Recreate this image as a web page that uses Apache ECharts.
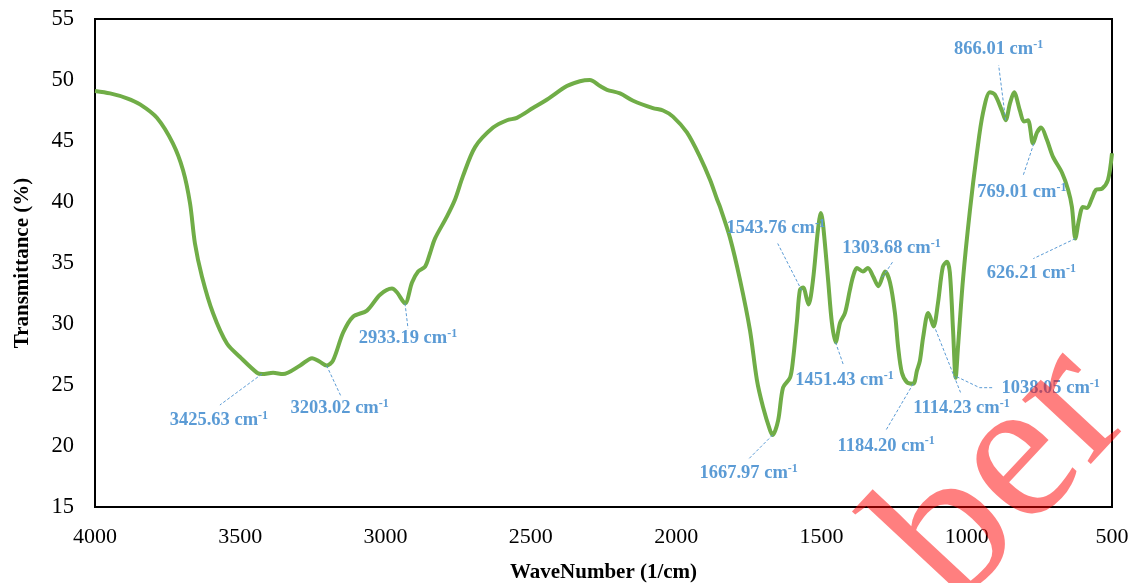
<!DOCTYPE html>
<html>
<head>
<meta charset="utf-8">
<title>FTIR spectrum</title>
<script src="https://cdn.jsdelivr.net/npm/echarts@6/dist/echarts.min.js"></script>
<style>
  html, body { margin: 0; padding: 0; background: #fff; }
  #chart { width: 1135px; height: 583px; }
</style>
</head>
<body>
<div id="chart"></div>
<script>
// Wavenumber (cm-1) of each sample along the spectrum
const waveNumbers = [
  4000, 3948, 3890, 3845, 3787, 3732, 3697, 3673, 3656, 3632, 3594, 3546, 3501, 3442, 3425,
  3387, 3353, 3294, 3253, 3226, 3203, 3181, 3146, 3112, 3064, 3019, 2978, 2961, 2933, 2909,
  2888, 2864, 2847, 2830, 2789, 2761, 2734, 2692, 2630, 2582, 2548, 2493, 2444, 2376, 2331,
  2297, 2262, 2238, 2193, 2148, 2080, 2045, 2011, 1963, 1918, 1883, 1859, 1849, 1815, 1780,
  1746, 1722, 1701, 1677, 1668, 1649, 1632, 1608, 1598, 1584, 1574, 1563, 1550, 1544, 1529,
  1512, 1502, 1495, 1477, 1464, 1451, 1436, 1419, 1402, 1391, 1378, 1357, 1340, 1322, 1304,
  1281, 1264, 1247, 1236, 1223, 1205, 1184, 1171, 1161, 1150, 1133, 1126, 1114, 1099, 1082,
  1068, 1058, 1047, 1038, 1030, 1013, 989, 965, 944, 920, 903, 879, 866, 851, 837,
  817, 803, 789, 772, 758, 744, 724, 703, 672, 651, 638, 626, 614, 600, 586,
  569, 555, 534, 514, 500
];

// Transmittance (%) at each wavenumber above
const transmittance = [
  49.1, 48.9, 48.5, 48.0, 46.9, 44.8, 42.6, 39.9, 36.6, 33.9, 30.9, 28.4, 27.3, 26.0, 25.9,
  26.0, 25.9, 26.6, 27.2, 26.9, 26.6, 27.0, 29.3, 30.6, 31.1, 32.4, 32.9, 32.6, 31.7, 33.4,
  34.3, 34.7, 35.8, 37.0, 38.8, 40.2, 42.1, 44.5, 46.1, 46.7, 46.9, 47.7, 48.4, 49.5, 49.9,
  50.0, 49.5, 49.2, 48.9, 48.3, 47.7, 47.5, 47.0, 45.7, 43.7, 41.8, 40.2, 39.6, 37.1, 33.6,
  29.5, 25.4, 23.2, 21.3, 20.9, 22.1, 24.8, 25.6, 27.0, 30.3, 32.8, 33.0, 32.0, 31.6, 33.6,
  37.7, 39.1, 38.3, 33.6, 30.1, 28.5, 30.1, 30.9, 32.8, 33.9, 34.6, 34.3, 34.6, 33.9, 33.1,
  34.3, 33.4, 30.9, 28.1, 26.0, 25.2, 25.1, 26.2, 27.0, 28.9, 30.9, 30.6, 29.8, 31.7, 34.7,
  35.1, 34.2, 29.5, 25.6, 28.1, 33.6, 39.3, 44.0, 47.3, 49.0, 48.8, 47.5, 46.7, 48.1, 49.0,
  47.5, 46.6, 46.7, 44.8, 45.7, 46.1, 45.1, 43.7, 42.4, 41.0, 39.6, 37.0, 38.5, 39.6, 39.5,
  40.3, 41.0, 41.1, 41.8, 44.0
];

// Assigned band positions and their labels
const peakNames = [
  '3425.63', '3203.02', '2933.19', '1667.97', '1543.76', '1451.43', '1303.68',
  '1184.20', '1114.23', '1038.05', '866.01', '769.01', '626.21'
];
const peakWave = [3425.63, 3203.02, 2933.19, 1667.97, 1543.76, 1451.43, 1303.68,
  1184.20, 1114.23, 1038.05, 866.01, 769.01, 626.21];
const peakValue = [25.9, 26.6, 31.7, 20.9, 31.6, 28.5, 33.1, 25.1, 29.8, 25.6, 46.7, 44.8, 37.0];

// Axis tick values
const xTicks = [4000, 3500, 3000, 2500, 2000, 1500, 1000, 500];
const yTicks = [15, 20, 25, 30, 35, 40, 45, 50, 55];

// Leader line points and label centre, in pixels relative to each band
const calloutLayout = [
  { line: [[0, 0], [-42, 31]], label: [-43, 46] },
  { line: [[0, 0], [14, 30]], label: [13, 43] },
  { line: [[0, 0], [3, 25]], label: [3, 35] },
  { line: [[0, 0], [-24, 24]], label: [-24, 38] },
  { line: [[-7, -14], [-31, -61]], label: [-33, -76] },
  { line: [[0, 0], [8, 23]], label: [9, 38] },
  { line: [[4, -9], [14, -24]], label: [13, -38] },
  { line: [[0, 0], [-27, 46]], label: [-27, 62] },
  { line: [[2, 3], [27, 66]], label: [28, 82] },
  { line: [[1, -1], [24, 10], [37, 10]], label: [95, 11] },
  { line: [[0, 0], [-7, -55]], label: [-7, -71] },
  { line: [[0, 0], [-11, 33]], label: [-12, 49] },
  { line: [[0, 0], [-42, 20]], label: [-44, 35] }
];

const serif = '"Liberation Serif", "Times New Roman", serif';
const labelBlue = '#5B9BD5';

const spectrum = waveNumbers.map((w, i) => [w, transmittance[i]]);
const peaks = peakWave.map((w, i) => [w, peakValue[i], i]);

const chart = echarts.init(document.getElementById('chart'), null, { renderer: 'canvas' });

chart.setOption({
  animation: false,
  backgroundColor: '#ffffff',
  grid: {
    left: 95, right: 23, top: 19, bottom: 76,
    outerBoundsMode: 'none',
    containLabel: false,
    show: true, borderColor: '#000', borderWidth: 2, backgroundColor: 'transparent'
  },
  xAxis: {
    type: 'value',
    inverse: true,
    min: xTicks[xTicks.length - 1],
    max: xTicks[0],
    interval: 500,
    name: 'WaveNumber (1/cm)',
    nameLocation: 'middle',
    nameGap: 55,
    nameTextStyle: { fontFamily: serif, fontSize: 21, fontWeight: 'bold', color: '#000' },
    axisLine: { show: true, onZero: false, lineStyle: { color: '#000', width: 2 } },
    axisTick: { show: false },
    splitLine: { show: false },
    axisLabel: {
      fontFamily: serif, fontSize: 22, color: '#000', margin: 19,
      formatter: v => String(v)
    }
  },
  yAxis: {
    type: 'value',
    min: yTicks[0],
    max: yTicks[yTicks.length - 1],
    interval: 5,
    name: 'Transmittance (%)',
    nameLocation: 'middle',
    nameGap: 62,
    nameTextStyle: { fontFamily: serif, fontSize: 21, fontWeight: 'bold', color: '#000' },
    axisLine: { show: true, onZero: false, lineStyle: { color: '#000', width: 2 } },
    axisTick: { show: false },
    splitLine: { show: false },
    axisLabel: { fontFamily: serif, fontSize: 22.5, color: '#000', margin: 21 }
  },
  series: [
    {
      type: 'line',
      data: spectrum,
      showSymbol: false,
      smooth: 0.3,
      lineStyle: { color: '#70AD47', width: 4 },
      z: 3
    },
    {
      type: 'custom',
      data: peaks,
      z: 4,
      renderItem: function (params, api) {
        const p = api.coord([api.value(0), api.value(1)]);
        const lay = calloutLayout[api.value(2)];
        const name = peakNames[api.value(2)];
        return {
          type: 'group',
          children: [
            {
              type: 'polyline',
              shape: { points: lay.line.map(d => [p[0] + d[0], p[1] + d[1]]) },
              style: { stroke: labelBlue, lineWidth: 1, lineDash: [3, 2], fill: null }
            },
            {
              type: 'text',
              x: p[0] + lay.label[0],
              y: p[1] + lay.label[1],
              style: {
                text: '{a|' + name + ' cm}{s|-1}',
                align: 'center',
                verticalAlign: 'middle',
                rich: {
                  a: { fontFamily: serif, fontSize: 18.5, fontWeight: 'bold', fill: labelBlue, lineHeight: 21 },
                  s: { fontFamily: serif, fontSize: 12, fontWeight: 'bold', fill: labelBlue, verticalAlign: 'top', lineHeight: 12 }
                }
              }
            }
          ]
        };
      }
    }
  ],
  graphic: [
    {
      type: 'text',
      x: 1006,
      y: 476,
      rotation: 47 * Math.PI / 180,
      z: 100,
      style: {
        text: 'ber',
        font: '205px "Liberation Serif"',
        fill: 'rgba(255, 0, 0, 0.5)',
        align: 'center',
        verticalAlign: 'middle'
      }
    }
  ]
});
</script>
</body>
</html>
